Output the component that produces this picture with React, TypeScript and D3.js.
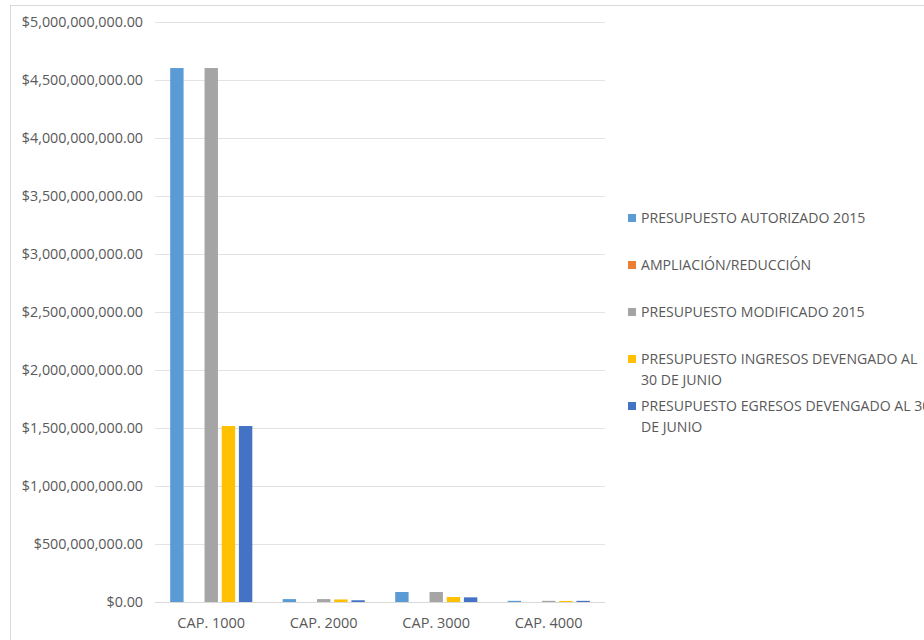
import React from "react";
import * as d3 from "d3";

const categories = ["CAP. 1000", "CAP. 2000", "CAP. 3000", "CAP. 4000"];
const seriesNames = [
  "PRESUPUESTO AUTORIZADO 2015",
  "AMPLIACIÓN/REDUCCIÓN",
  "PRESUPUESTO MODIFICADO 2015",
  "PRESUPUESTO INGRESOS DEVENGADO AL 30 DE JUNIO",
  "PRESUPUESTO EGRESOS DEVENGADO AL 30 DE JUNIO",
];
const legendLines = [
  ["PRESUPUESTO AUTORIZADO 2015"],
  ["AMPLIACIÓN/REDUCCIÓN"],
  ["PRESUPUESTO MODIFICADO 2015"],
  ["PRESUPUESTO INGRESOS DEVENGADO AL", "30 DE JUNIO"],
  ["PRESUPUESTO EGRESOS DEVENGADO AL 30", "DE JUNIO"],
];
const colors = ["#5b9bd5", "#ed7d31", "#a5a5a5", "#ffc000", "#4472c4"];
const autorizado = [4603000000, 25000000, 86000000, 10000000];
const ampliacion = [0, 0, 0, 0];
const modificado = [4603000000, 25000000, 86000000, 10000000];
const ingresos = [1517000000, 22000000, 43000000, 9000000];
const egresos = [1517000000, 15000000, 40000000, 10000000];
const seriesValues = [autorizado, ampliacion, modificado, ingresos, egresos];
const yTicks = [0, 500000000, 1000000000, 1500000000, 2000000000, 2500000000, 3000000000, 3500000000, 4000000000, 4500000000, 5000000000];

export default function App() {
  const W = 924, H = 640;
  const left = 155, right = 605, top = 22, bottom = 602;
  const y = d3.scaleLinear().domain([0, 5e9]).range([bottom, top]);
  const x0 = d3.scaleBand().domain(categories).range([left, right]).paddingInner(0.27).paddingOuter(0.135);
  const x1 = d3.scaleBand().domain(seriesNames).range([0, x0.bandwidth()]).paddingInner(0.22);
  const fmt = (v: number) => "$" + d3.format(",.2f")(v);
  const font = "'Open Sans', sans-serif";
  const legendY = [218, 265, 312, 359, 406];
  return (
    <svg width={W} height={H} style={{ position: "absolute", left: 0, top: 0, background: "#fff" }}>
      <rect x={10.5} y={5.5} width={W} height={H} fill="#fff" stroke="#d9d9d9" />
      {yTicks.map((t) => (
        <g key={t}>
          <line x1={left} x2={right} y1={Math.round(y(t)) + 0.5} y2={Math.round(y(t)) + 0.5} stroke={t === 0 ? "#d9d9d9" : "#e3e3e3"} />
          <text x={143} y={y(t)} dy="0.35em" textAnchor="end" fontFamily={font} fontSize={14.3} fill="#595959">{fmt(t)}</text>
        </g>
      ))}
      {categories.map((c, ci) => (
        <g key={c} transform={`translate(${x0(c)},0)`}>
          {seriesNames.map((s, si) => {
            const v = seriesValues[si][ci];
            if (v <= 0) return null;
            return <rect key={s} x={x1(s)} y={y(v)} width={x1.bandwidth()} height={bottom - y(v)} fill={colors[si]} />;
          })}
        </g>
      ))}
      {categories.map((c) => (
        <text key={c} x={(x0(c) as number) + x0.bandwidth() / 2} y={623} dy="0.35em" textAnchor="middle" fontFamily={font} fontSize={14.5} fill="#595959">{c}</text>
      ))}
      {legendLines.map((lines, i) => (
        <g key={i}>
          <rect x={628} y={legendY[i] - 4} width={8} height={8} fill={colors[i]} />
          {lines.map((l, j) => (
            <text key={j} x={641} y={legendY[i] + j * 21} dy="0.35em" fontFamily={font} fontSize={14.1} fill="#595959">{l}</text>
          ))}
        </g>
      ))}
    </svg>
  );
}
